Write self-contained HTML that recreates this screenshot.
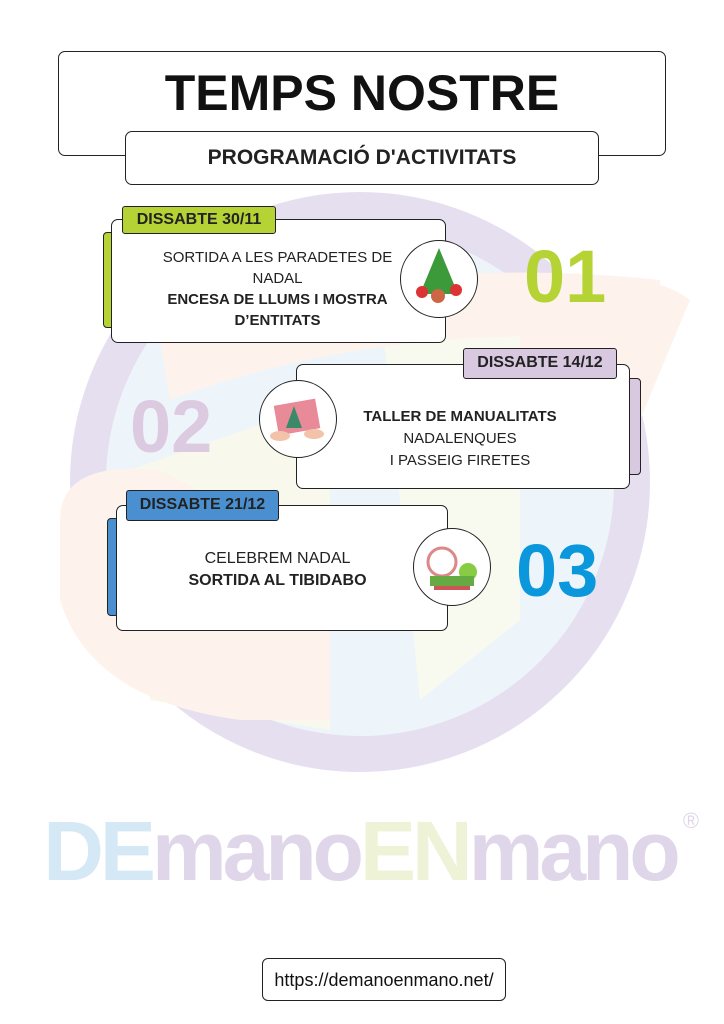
<!DOCTYPE html>
<html><head><meta charset="utf-8"><style>
body{margin:0;width:724px;height:1024px;background:#fff;position:relative;overflow:hidden;font-family:"Liberation Sans",sans-serif;}
.a{position:absolute;box-sizing:border-box;}
.box{border:1.5px solid #222;border-radius:7px;background:#fff;}
.c{text-align:center;color:#222;}
.lab{border:1.5px solid #222;border-radius:3px;font-weight:bold;font-size:16px;line-height:26px;text-align:center;color:#222;}
.circ{border:1.5px solid #222;border-radius:50%;background:#fff;}
.num{font-weight:bold;font-size:74px;line-height:1;}
</style></head><body>
<svg class="a" style="left:0;top:0" width="724" height="1024">
<circle cx="360" cy="482" r="272" fill="#edf5fb" stroke="#e6dff0" stroke-width="36"/>
<path d="M130 470 L330 400 L330 730 L150 700 Z" fill="#f8f9ec"/>
<path d="M380 300 L520 300 L520 620 L420 700 Z" fill="#f9faef"/>
<path d="M160 340 Q380 250 660 280 L660 340 Q380 320 170 400 Z" fill="#fdf3ec"/>
<path d="M60 520 Q60 460 160 470 L330 560 L330 720 L240 720 Q90 700 60 600 Z" fill="#fdf3ec"/>
<path d="M520 300 Q640 260 690 300 L640 420 Q580 380 520 380 Z" fill="#fdf3ec"/>
<text x="360" y="880" text-anchor="middle" font-family="Liberation Sans" font-weight="bold" font-size="84" letter-spacing="-4"><tspan fill="#d5e8f6">DE</tspan><tspan fill="#e0d6ea">mano</tspan><tspan fill="#eef2d6">EN</tspan><tspan fill="#e0d6ea">mano</tspan></text>
<text x="691" y="828" text-anchor="middle" font-family="Liberation Sans" font-size="22" fill="#e0d6ea">®</text>
</svg>

<div class="a box" style="left:58px;top:51px;width:608px;height:105px;"></div>
<div class="a c" style="left:58px;top:62px;width:608px;font-size:50px;font-weight:bold;line-height:62px;color:#111;">TEMPS NOSTRE</div>
<div class="a box" style="left:125px;top:131px;width:474px;height:54px;"></div>
<div class="a c" style="left:125px;top:144px;width:474px;font-size:21px;font-weight:bold;line-height:28px;">PROGRAMACIÓ D'ACTIVITATS</div>

<div class="a" style="left:103px;top:232px;width:12px;height:96px;background:#b5d334;border:1.5px solid #222;border-radius:4px;"></div>
<div class="a box" style="left:111px;top:219px;width:335px;height:124px;"></div>
<div class="a lab" style="left:122px;top:206px;width:154px;height:28px;background:#b5d334;">DISSABTE 30/11</div>
<div class="a c" style="left:150px;top:247px;width:255px;font-size:15px;line-height:21px;">SORTIDA A LES PARADETES DE NADAL<br><b>ENCESA DE LLUMS I MOSTRA D’ENTITATS</b></div>
<div class="a circ" style="left:400px;top:240px;width:78px;height:78px;"></div>
<svg class="a" style="left:408px;top:244px" width="62" height="66"><polygon points="31,4 12,50 50,50" fill="#3d9a3a"/><circle cx="14" cy="48" r="6" fill="#d33"/><circle cx="48" cy="46" r="6" fill="#d33"/><circle cx="30" cy="52" r="7" fill="#c64"/></svg>
<div class="a num" style="left:524px;top:240px;color:#b5d334;">01</div>

<div class="a" style="left:624px;top:378px;width:17px;height:97px;background:#d9c9e0;border:1.5px solid #222;border-radius:4px;"></div>
<div class="a box" style="left:296px;top:364px;width:334px;height:125px;"></div>
<div class="a lab" style="left:463px;top:348px;width:154px;height:31px;line-height:28px;background:#d9c9e0;">DISSABTE 14/12</div>
<div class="a c" style="left:335px;top:406px;width:250px;font-size:15px;line-height:22px;"><b>TALLER DE MANUALITATS</b><br>NADALENQUES<br>I PASSEIG FIRETES</div>
<div class="a circ" style="left:259px;top:380px;width:78px;height:78px;"></div>
<svg class="a" style="left:266px;top:388px" width="64" height="62"><rect x="10" y="14" width="42" height="30" fill="#e88a98" transform="rotate(-10 31 29)"/><polygon points="28,18 20,40 36,40" fill="#3a8a6a"/><ellipse cx="14" cy="48" rx="10" ry="5" fill="#f2c3a8"/><ellipse cx="48" cy="46" rx="10" ry="5" fill="#f2c3a8"/></svg>
<div class="a num" style="left:130px;top:390px;color:#dccbe0;">02</div>

<div class="a" style="left:107px;top:518px;width:12px;height:98px;background:#4a90d0;border:1.5px solid #222;border-radius:4px;"></div>
<div class="a box" style="left:116px;top:505px;width:332px;height:126px;"></div>
<div class="a lab" style="left:126px;top:490px;width:153px;height:31px;line-height:28px;background:#4a90d0;">DISSABTE 21/12</div>
<div class="a c" style="left:150px;top:548px;width:255px;font-size:16px;line-height:22px;">CELEBREM NADAL<br><b>SORTIDA AL TIBIDABO</b></div>
<div class="a circ" style="left:413px;top:528px;width:78px;height:78px;"></div>
<svg class="a" style="left:420px;top:536px" width="64" height="62"><circle cx="22" cy="26" r="14" fill="none" stroke="#d88" stroke-width="3"/><circle cx="48" cy="36" r="9" fill="#8c4"/><rect x="10" y="40" width="44" height="10" fill="#6a4"/><rect x="14" y="50" width="36" height="4" fill="#c55"/></svg>
<div class="a num" style="left:516px;top:534px;color:#0a97db;">03</div>

<div class="a box" style="left:262px;top:958px;width:244px;height:43px;border-radius:6px;"></div>
<div class="a c" style="left:262px;top:968px;width:244px;font-size:18px;line-height:24px;color:#111;">https://demanoenmano.net/</div>
</body></html>
